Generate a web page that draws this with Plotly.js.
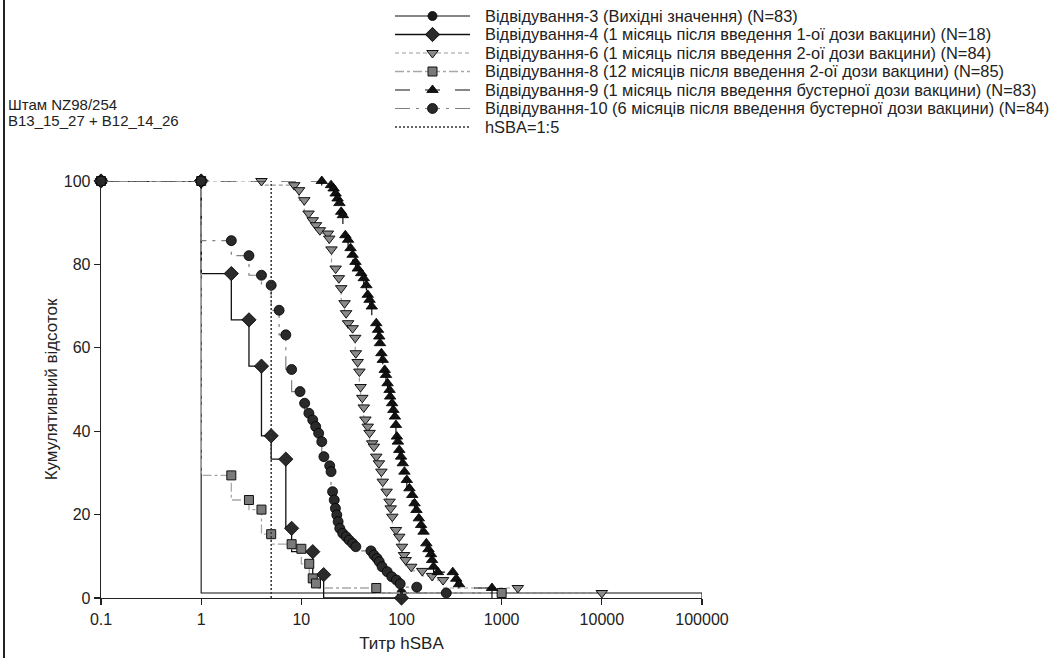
<!DOCTYPE html>
<html>
<head>
<meta charset="utf-8">
<script src="https://cdn.plot.ly/plotly-3.0.1.min.js"></script>
<style>
  html, body { margin: 0; padding: 0; background: #fff; }
  #chart { width: 1052px; height: 658px; }
</style>
</head>
<body>
<div id="chart"></div>
<script>
// ---------- DATA ----------
const seriesNames = [
  "Відвідування-3 (Вихідні значення) (N=83)",
  "Відвідування-4 (1 місяць після введення 1-ої дози вакцини) (N=18)",
  "Відвідування-6 (1 місяць після введення 2-ої дози вакцини) (N=84)",
  "Відвідування-8 (12 місяців після введення 2-ої дози вакцини) (N=85)",
  "Відвідування-9 (1 місяць після введення бустерної дози вакцини) (N=83)",
  "Відвідування-10 (6 місяців після введення бустерної дози вакцини) (N=84)"
];
const thresholdName = "hSBA=1:5";
const thresholdTitre = 5;

// Visit 3
const v3Titre = [0.1, 1, 100];
const v3Pct   = [100, 100, 1.2];
// Visit 4
const v4Titre = [0.1, 1, 2, 3, 4, 5, 7, 8, 13, 16.7, 100];
const v4Pct   = [100, 100, 77.8, 66.7, 55.6, 38.9, 33.3, 16.7, 11.1, 5.6, 0];
// Visit 6
const v6Titre = [0.1, 4, 8.5, 9.5, 10.7, 11.8, 13, 14, 15.3, 18.4, 19, 20, 22, 23.7, 25, 27, 28, 29.3, 32.5, 34.5, 35, 36.5, 38, 39, 40.6, 42, 43.6, 46, 48, 51, 53, 56, 59.5, 63, 65, 71, 76, 78, 81, 88, 95, 101, 106, 110, 125, 161, 202, 260, 1450, 10000];
const v6Pct   = [100, 100, 99.0, 97.8, 95.4, 92.2, 90.6, 89.4, 88.2, 87.4, 86.2, 83.6, 79.0, 76.7, 74.3, 70.7, 68.3, 65.9, 64.7, 62.4, 58.7, 56.6, 54.3, 50.6, 48.0, 45.7, 42.8, 41.1, 39.6, 37.1, 36.3, 33.9, 32.3, 30.3, 27.9, 25.5, 23.1, 21.5, 19.5, 16.3, 14.7, 12.3, 10.3, 9.1, 7.5, 6.5, 5.3, 4.3, 2.4, 1.2];
// Visit 8
const v8Titre = [0.1, 1, 2, 3, 4, 5, 8, 10, 12, 13, 14, 56, 1000];
const v8Pct   = [100, 100, 29.4, 23.5, 21.2, 15.3, 12.9, 11.8, 8.2, 4.7, 3.5, 2.4, 1.2];
// Visit 9
const v9Titre = [0.1, 16, 19.8, 21, 22, 23, 24, 25, 26, 27.5, 29.3, 31, 32.5, 34.7, 36.6, 39.6, 42, 44.6, 46, 48, 50.5, 56, 58.3, 60, 61, 63, 65, 68, 70, 72.6, 76, 77, 80.6, 83, 86, 88, 90, 92, 95, 99, 103, 107, 113, 120, 128, 135, 141, 149, 157, 166, 177, 186, 197, 202, 209, 231, 325, 352, 375, 800];
const v9Pct   = [100, 100, 99.0, 98.2, 97.0, 95.8, 94.7, 92.6, 91.8, 87.0, 85.9, 83.9, 82.3, 80.6, 79.0, 77.9, 76.7, 75.0, 72.7, 71.5, 69.9, 65.9, 64.3, 62.7, 61.1, 58.7, 57.1, 54.7, 53.5, 51.5, 49.9, 48.3, 46.7, 45.1, 43.5, 41.5, 38.7, 37.5, 35.5, 33.9, 32.3, 30.3, 28.3, 26.3, 24.7, 22.7, 21.1, 19.1, 17.5, 15.9, 13.1, 11.7, 10.5, 9.1, 7.5, 6.2, 6.2, 4.6, 3.3, 2.4];
// Visit 10
const v10Titre = [0.1, 1, 2, 3, 4, 5, 6, 7, 8, 9.7, 10.8, 11.9, 13, 13.9, 14.9, 16, 16.8, 19.2, 19.8, 20.5, 21.3, 21.9, 22.6, 23.3, 24.2, 25.9, 28, 30, 32.5, 35, 49.5, 53, 57, 60, 64, 72, 80, 89, 97, 142, 280];
const v10Pct   = [100, 100, 85.7, 82.1, 77.4, 75.0, 69.0, 63.1, 54.8, 49.5, 46.7, 44.3, 42.7, 41.1, 39.5, 37.5, 33.9, 31.7, 30.3, 25.5, 23.5, 21.5, 19.9, 18.3, 16.7, 15.5, 14.7, 13.9, 13.1, 12.3, 11.3, 10.3, 9.5, 8.7, 7.5, 6.3, 5.1, 4.3, 3.4, 2.6, 1.2];

const xTickVals = [0.1, 1, 10, 100, 1000, 10000, 100000];
const xTickText = ["0.1", "1", "10", "100", "1000", "10000", "100000"];
const yTickVals = [0, 20, 40, 60, 80, 100];

const xTitle = "Титр hSBA";
const yTitle = "Кумулятивний відсоток";
const strainLines = ["Штам NZ98/254", "B13_15_27 + B12_14_26"];

// ---------- LAYOUT GEOMETRY (pixels of the 1052x658 figure) ----------
const W = 1052, H = 658;
const px = v => v / W;            // x pixel -> paper
const py = v => 1 - v / H;        // y pixel -> paper
const PLOT = {left: 101, right: 702, top: 181, bottom: 598};
const LEG = {swLeft: 395, swRight: 470, textLeft: 483, firstRow: 16, rowStep: 18.5};

// ---------- STYLES ----------
const FONT = "Liberation Sans, Arial, Helvetica, sans-serif";
const TXT = "#222";
const styles = [
  {line: {color: "#111", width: 1.1, dash: "solid"}, marker: {symbol: "circle", size: 9, color: "#1a1a1a", line: {color: "#000", width: 0.8}}, extendToEnd: true},
  {line: {color: "#111", width: 1.3, dash: "solid"}, marker: {symbol: "diamond", size: 11, color: "#2b2b2b", line: {color: "#000", width: 0.8}}},
  {line: {color: "#9a9a9a", width: 1.2, dash: "4px,3px"}, marker: {symbol: "triangle-down", size: 10, color: "#8a8a8a", line: {color: "#111", width: 1}}},
  {line: {color: "#a8a8a8", width: 1.3, dash: "dashdot"}, marker: {symbol: "square", size: 9, color: "#7a7a7a", line: {color: "#111", width: 1}}},
  {line: {color: "#111", width: 1.2, dash: "longdash"}, marker: {symbol: "triangle-up", size: 10, color: "#111", line: {color: "#000", width: 0.8}}},
  {line: {color: "#808080", width: 1.2, dash: "longdashdot"}, marker: {symbol: "circle", size: 10, color: "#2a2a2a", line: {color: "#000", width: 0.8}}}
];
const thresholdLine = {color: "#333", width: 1.5, dash: "2px,2px"};
const seriesData = [
  [v3Titre, v3Pct], [v4Titre, v4Pct], [v6Titre, v6Pct],
  [v8Titre, v8Pct], [v9Titre, v9Pct], [v10Titre, v10Pct]
];
const X_MAX = xTickVals[xTickVals.length - 1];

const traces = [];
const tails = [];
seriesData.forEach(([xs, ys], i) => {
  const st = styles[i];
  traces.push({
    type: "scatter", mode: "lines+markers", name: seriesNames[i],
    x: xs, y: ys, showlegend: false,
    line: Object.assign({shape: "vh"}, st.line), marker: st.marker,
    cliponaxis: false
  });
  const lx = xs[xs.length - 1], ly = ys[ys.length - 1];
  const tx = [lx], ty = [ly];
  if (st.extendToEnd) { tx.push(X_MAX); ty.push(ly); }
  if (ly > 0) { tx.push(tx[tx.length - 1]); ty.push(0); }
  if (tx.length > 1) {
    tails.push({
      type: "scatter", mode: "lines", x: tx, y: ty,
      showlegend: false, hoverinfo: "skip", cliponaxis: false,
      line: Object.assign({shape: "vh"}, st.line)
    });
  }
});
const threshold = {
  type: "scatter", mode: "lines", name: thresholdName, showlegend: false,
  x: [thresholdTitre, thresholdTitre], y: [yTickVals[0], yTickVals[yTickVals.length - 1]],
  line: thresholdLine, cliponaxis: false
};

// ---------- custom legend (own hidden axes, so rows can be tight) ----------
const legendLabels = [...seriesNames, thresholdName];
const legendLines = [...styles.map(s => s.line), thresholdLine];
const legendMarkers = [...styles.map(s => s.marker), null];
const nRows = legendLabels.length;
const legTraces = [];
const legAnn = [];
legendLabels.forEach((lab, i) => {
  legTraces.push({type: "scatter", mode: "lines", x: [0, 1], y: [i, i], xaxis: "x2", yaxis: "y2",
    showlegend: false, hoverinfo: "skip", cliponaxis: false, line: legendLines[i]});
  if (legendMarkers[i]) {
    legTraces.push({type: "scatter", mode: "markers", x: [0.5], y: [i], xaxis: "x2", yaxis: "y2",
      showlegend: false, hoverinfo: "skip", cliponaxis: false, marker: legendMarkers[i]});
  }
  legAnn.push({xref: "paper", yref: "y2", x: px(LEG.textLeft), y: i, xanchor: "left", yanchor: "middle",
    showarrow: false, text: lab, font: {family: FONT, size: 16.4, color: TXT}});
});
const legTopPx = LEG.firstRow - LEG.rowStep / 2;
const legBotPx = LEG.firstRow + LEG.rowStep * (nRows - 0.5);

const data = [...tails, ...traces, threshold, ...legTraces];

const layout = {
  width: W, height: H,
  paper_bgcolor: "#fff", plot_bgcolor: "rgba(0,0,0,0)",
  margin: {l: 0, r: 0, t: 0, b: 0, autoexpand: false},
  font: {family: FONT, color: TXT, size: 15},
  showlegend: false,
  xaxis: {
    domain: [px(PLOT.left), px(PLOT.right)],
    type: "log", range: [-1, 5], anchor: "y",
    tickvals: xTickVals, ticktext: xTickText,
    ticks: "outside", ticklen: 6, tickwidth: 1.2, tickcolor: TXT,
    showline: true, linecolor: TXT, linewidth: 1.3,
    showgrid: false, zeroline: false,
    tickfont: {family: FONT, size: 16, color: TXT},
    title: {text: xTitle, font: {family: FONT, size: 17, color: TXT}, standoff: 10}
  },
  yaxis: {
    domain: [py(PLOT.bottom), py(PLOT.top)],
    range: [0, 100], tickvals: yTickVals, anchor: "x",
    ticks: "outside", ticklen: 6, tickwidth: 1.2, tickcolor: TXT,
    showline: true, linecolor: TXT, linewidth: 1.3,
    showgrid: false, zeroline: false,
    tickfont: {family: FONT, size: 16, color: TXT},
    title: {text: yTitle, font: {family: FONT, size: 17, color: TXT}, standoff: 1}
  },
  xaxis2: {domain: [px(LEG.swLeft), px(LEG.swRight)], range: [0, 1], visible: false, anchor: "y2", fixedrange: true},
  yaxis2: {domain: [py(legBotPx), py(legTopPx)], range: [nRows - 0.5, -0.5], visible: false, anchor: "x2", fixedrange: true},
  annotations: [
    {xref: "paper", yref: "paper", x: px(6), y: py(104), xanchor: "left", yanchor: "middle",
     showarrow: false, text: strainLines[0], font: {family: FONT, size: 15, color: TXT}},
    {xref: "paper", yref: "paper", x: px(6), y: py(121), xanchor: "left", yanchor: "middle",
     showarrow: false, text: strainLines[1], font: {family: FONT, size: 15, color: TXT}},
    ...legAnn
  ],
  shapes: [{
    type: "line", xref: "paper", yref: "paper",
    x0: px(4), x1: px(4), y0: 0, y1: 1,
    line: {color: TXT, width: 2}
  }]
};

Plotly.newPlot("chart", data, layout, {displayModeBar: false, staticPlot: true});
</script>
</body>
</html>
